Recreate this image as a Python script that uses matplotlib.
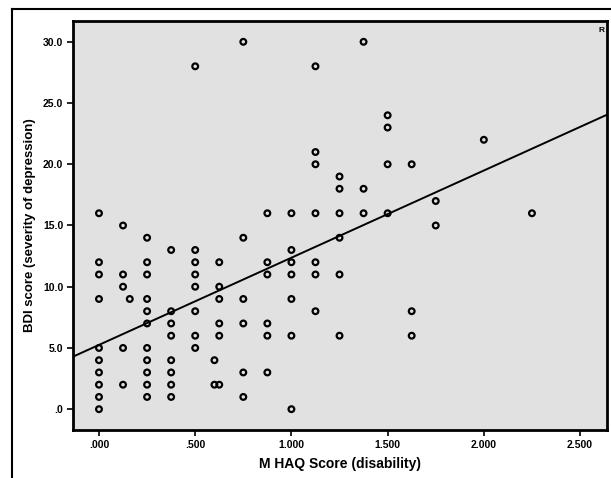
import numpy as np
import matplotlib
matplotlib.use("Agg")
import matplotlib.pyplot as plt
from matplotlib.ticker import FuncFormatter

plt.rcParams["font.family"] = ["Liberation Sans", "DejaVu Sans"]

# Data (M HAQ score vs BDI score)
haq_0 = [0.0] * 10
bdi_0 = [16, 12, 11, 9, 5, 4, 3, 2, 1, 0]
haq_1 = [0.125] * 5
bdi_1 = [15, 11, 10, 5, 2]
haq_2 = [0.16]
bdi_2 = [9]
haq_3 = [0.25] * 11
bdi_3 = [14, 12, 11, 9, 8, 7, 5, 4, 3, 2, 1]
haq_4 = [0.375] * 8
bdi_4 = [13, 8, 7, 6, 4, 3, 2, 1]
haq_5 = [0.5] * 8
bdi_5 = [28, 13, 12, 11, 10, 8, 6, 5]
haq_6 = [0.6] * 2
bdi_6 = [4, 2]
haq_7 = [0.625] * 6
bdi_7 = [12, 10, 9, 7, 6, 2]
haq_8 = [0.75] * 6
bdi_8 = [30, 14, 9, 7, 3, 1]
haq_9 = [0.875] * 6
bdi_9 = [16, 12, 11, 7, 6, 3]
haq_10 = [1.0] * 7
bdi_10 = [16, 13, 12, 11, 9, 6, 0]
haq_11 = [1.125] * 7
bdi_11 = [28, 21, 20, 16, 12, 11, 8]
haq_12 = [1.25] * 6
bdi_12 = [19, 18, 16, 14, 11, 6]
haq_13 = [1.375] * 3
bdi_13 = [30, 18, 16]
haq_14 = [1.5] * 4
bdi_14 = [24, 23, 20, 16]
haq_15 = [1.625] * 3
bdi_15 = [20, 8, 6]
haq_16 = [1.75] * 2
bdi_16 = [17, 15]
haq_17 = [2.0]
bdi_17 = [22]
haq_18 = [2.25]
bdi_18 = [16]

# Fit line
fit_intercept = 5.25
fit_slope = 7.12

x_ticks = [0.0, 0.5, 1.0, 1.5, 2.0, 2.5]
y_ticks = [0, 5, 10, 15, 20, 25, 30]

haq = np.array(haq_0 + haq_1 + haq_2 + haq_3 + haq_4 + haq_5 + haq_6 + haq_7 + haq_8
               + haq_9 + haq_10 + haq_11 + haq_12 + haq_13 + haq_14 + haq_15 + haq_16
               + haq_17 + haq_18)
bdi = np.array(bdi_0 + bdi_1 + bdi_2 + bdi_3 + bdi_4 + bdi_5 + bdi_6 + bdi_7 + bdi_8
               + bdi_9 + bdi_10 + bdi_11 + bdi_12 + bdi_13 + bdi_14 + bdi_15 + bdi_16
               + bdi_17 + bdi_18)

fig = plt.figure(figsize=(6.11, 4.78), dpi=100)
fig.patch.set_facecolor("white")

# outer frame
fig.add_artist(plt.Line2D([12/611, 12/611], [0, 1 - 9/478], color="black", lw=1.5,
                          transform=fig.transFigure))
fig.add_artist(plt.Line2D([12/611, 1], [1 - 9/478, 1 - 9/478], color="black", lw=1.5,
                          transform=fig.transFigure))

ax = fig.add_axes([73/611, 1 - 430/478, (607 - 73)/611, (430 - 21)/478])
ax.set_facecolor("#e1e1e1")
xlim = (-0.135, 2.64)
ax.set_xlim(*xlim)
ax.set_ylim(-1.7, 31.7)

ax.scatter(haq, bdi, s=17, facecolors="none", edgecolors="black", linewidths=1.6, zorder=3)

xl = np.array(xlim)
ax.plot(xl, fit_intercept + fit_slope * xl, color="black", lw=1.4, zorder=2)

for sp in ax.spines.values():
    sp.set_linewidth(2.0)
    sp.set_color("black")

ax.set_xticks(x_ticks)
ax.set_yticks(y_ticks)

def fmt_x(v, pos):
    s = f"{v:.3f}"
    return s[1:] if s.startswith("0") else s

def fmt_y(v, pos):
    s = f"{v:.1f}"
    return s[1:] if s.startswith("0") else s

ax.xaxis.set_major_formatter(FuncFormatter(fmt_x))
ax.yaxis.set_major_formatter(FuncFormatter(fmt_y))
ax.tick_params(axis="both", direction="out", length=4, width=1.2, labelsize=7.5, pad=3)
for lab in ax.get_xticklabels() + ax.get_yticklabels():
    lab.set_fontweight("bold")

ax.set_xlabel("M HAQ Score (disability)", fontsize=10, fontweight="bold", labelpad=5)
ax.set_ylabel("BDI score (severity of depression)", fontsize=9.5, fontweight="bold", labelpad=5)

ax.text(0.995, 0.985, "R", transform=ax.transAxes, ha="right", va="top", fontsize=6,
        fontweight="bold")

fig.savefig("out.png", dpi=100)
